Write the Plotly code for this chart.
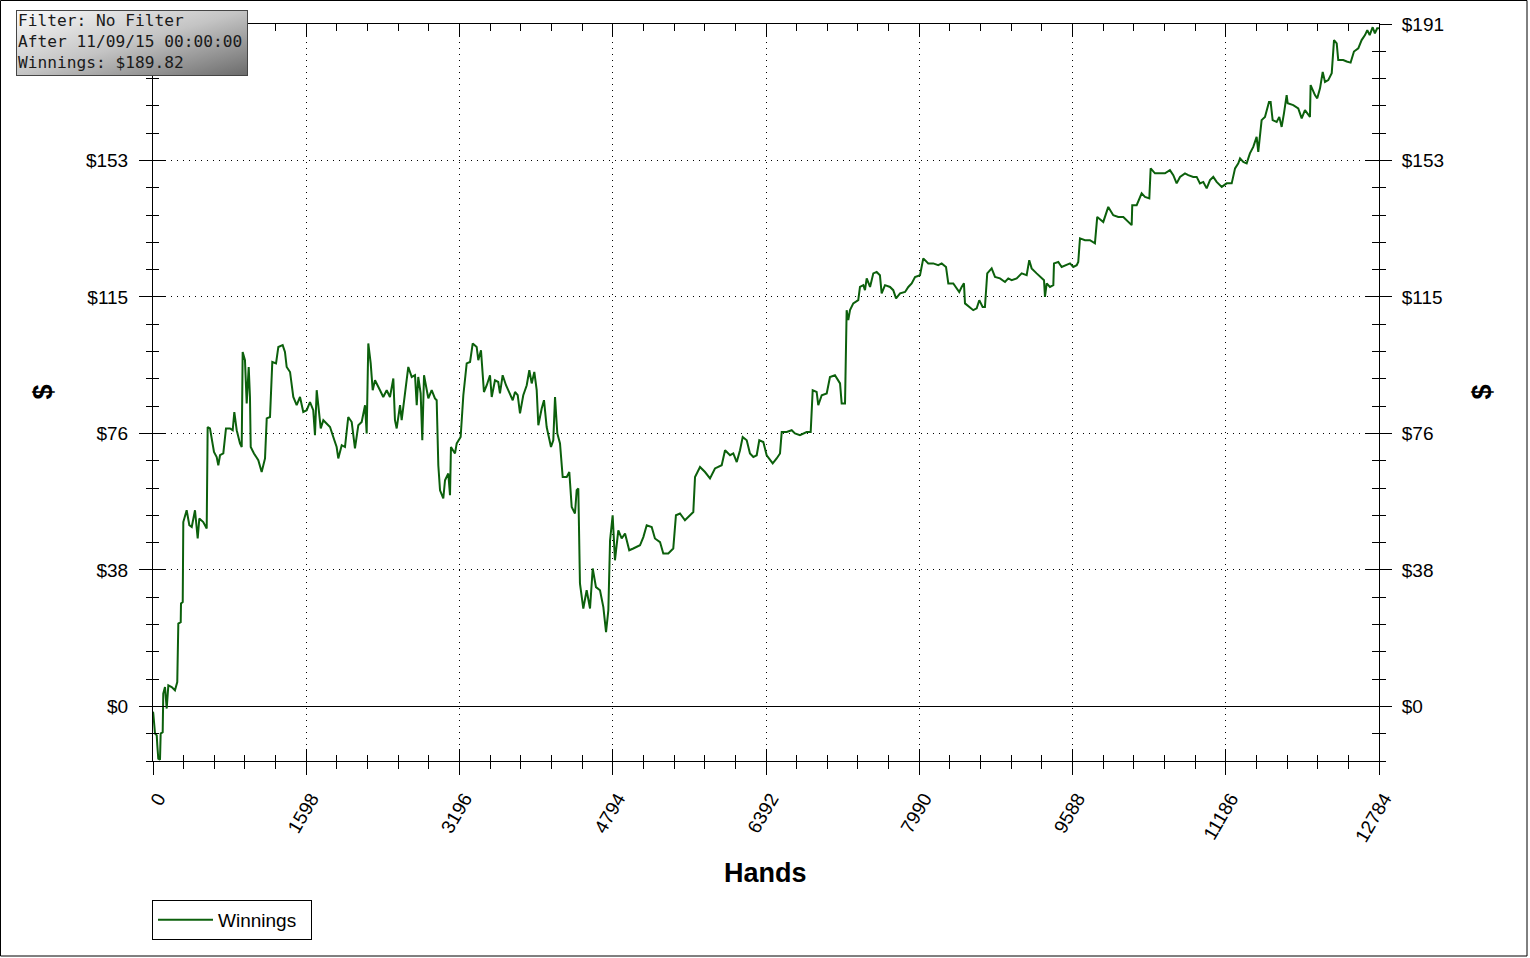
import base64
import plotly.graph_objects as go

# ---------------- data ----------------
hands = [
    0, 3, 21, 39, 45, 55, 73, 80, 101, 107, 125, 143, 160, 195, 229, 253, 264, 289, 292, 310,
    316, 351, 379, 404, 438, 466, 483, 524, 560, 570, 594, 636, 664, 681, 699, 733, 761, 803, 831, 848,
    873, 907, 925, 935, 959, 977, 998, 1011, 1019, 1053, 1098, 1133, 1168, 1186, 1220, 1244, 1283, 1307, 1352, 1376,
    1394, 1429, 1463, 1498, 1533, 1567, 1603, 1637, 1671, 1689, 1707, 1734,
    1749, 1776, 1811, 1846, 1880, 1915, 1932, 1968, 2002, 2036, 2072, 2106, 2141, 2176, 2211, 2228, 2245, 2270, 2291, 2315,
    2367, 2401, 2437, 2471, 2506, 2523, 2541, 2576, 2593, 2628, 2662, 2698, 2732, 2750, 2766, 2791, 2808, 2826, 2871, 2906,
    2940, 2958, 2975, 2993, 3027, 3045, 3079, 3097, 3107, 3149, 3167, 3208, 3236, 3271, 3306, 3334, 3375, 3392, 3420, 3451,
    3480, 3514, 3532, 3566, 3600, 3618, 3646, 3681, 3723, 3751, 3775, 3803, 3827, 3861, 3897, 3924, 3949, 3976, 4001, 4018,
    4053, 4077, 4105, 4150, 4174, 4192, 4216, 4244, 4272, 4314, 4341, 4366, 4400, 4418, 4435, 4452, 4487, 4522, 4557, 4585,
    4619, 4661, 4696, 4724, 4748, 4766, 4793, 4817, 4852,
    4887, 4922, 4966, 5008, 5078, 5113, 5148, 5200, 5234, 5287, 5321, 5373, 5425, 5453, 5495, 5547, 5599, 5634, 5652, 5704,
    5756, 5808, 5860, 5930, 5965, 6017, 6051, 6087, 6121, 6149, 6191, 6225, 6260, 6295, 6322, 6364, 6399, 6462, 6503, 6538,
    6556, 6608, 6660, 6694, 6746, 6816, 6858, 6879, 6920, 6937, 6973, 7025, 7059, 7111, 7164, 7181, 7216, 7233, 7250, 7268,
    7302, 7354, 7372,
    7407, 7424, 7442, 7477, 7511, 7546, 7580, 7598, 7633, 7685, 7719, 7748, 7790, 7842, 7876, 7911, 7946, 7998, 8032, 8084,
    8136, 8188, 8224, 8269, 8293, 8345, 8380, 8407, 8432, 8456, 8467, 8519, 8553, 8589, 8616, 8651, 8675, 8699, 8745, 8780,
    8832, 8884, 8918, 8954, 9006, 9058, 9110, 9137, 9162, 9214, 9249, 9291, 9301, 9319, 9353, 9388, 9395, 9440, 9475, 9527,
    9562, 9596, 9632, 9648, 9666, 9718, 9770, 9822,
    9846, 9909, 9961, 10013, 10065, 10118, 10170, 10205, 10211, 10257, 10309, 10344, 10389, 10403, 10448, 10500, 10552, 10604, 10639, 10674,
    10709, 10761, 10795, 10847, 10883, 10917, 10952, 10987, 11022, 11056, 11091, 11144, 11196, 11248, 11283, 11317, 11335, 11369, 11404, 11438,
    11473, 11508, 11525, 11560, 11595, 11637, 11654, 11675, 11717, 11744, 11769, 11793, 11821, 11832, 11890, 11942, 11978, 12012, 12064, 12071,
    12116, 12140, 12169, 12197, 12221, 12255, 12291, 12315, 12343, 12359, 12411, 12447, 12488, 12523, 12568, 12603, 12638, 12662, 12687, 12718,
    12741, 12765, 12784,
]

winnings = [
    -1.5, -2.0, -7.6, -8.1, -10.9, -14.6, -14.9, -7.6, -7.2, 3.6, 5.4, -0.6, 5.9, 5.4, 4.5, 6.8, 23.2, 23.6, 28.8, 29.2,
    51.6, 54.9, 50.7, 50.2, 54.9, 47.0, 52.6, 51.6, 49.8, 78.2, 77.8, 71.2, 69.8, 67.5, 70.3, 70.8, 77.8, 77.8, 77.3, 82.4,
    77.3, 73.6, 72.6, 99.2, 96.9, 84.8, 95.0, 86.6, 72.6, 70.8, 68.9, 65.6, 69.4, 80.6, 81.0, 96.4, 96.0, 100.6, 101.1, 99.2,
    95.0, 93.6, 86.6, 84.3, 86.6, 82.4, 82.9, 85.2, 82.9, 75.9, 88.5, 82.0,
    77.8, 80.1, 79.2, 78.2, 75.4, 72.6, 69.4, 73.1, 72.6, 81.0, 79.6, 72.2, 78.7, 79.6, 84.3, 76.4, 101.6, 96.0, 88.5, 91.3,
    88.5, 86.6, 88.5, 86.6, 91.8, 80.1, 77.8, 84.3, 80.1, 88.5, 95.0, 92.2, 92.7, 84.3, 92.2, 87.6, 74.5, 92.7, 86.2, 88.5,
    86.2, 85.7, 67.5, 60.5, 58.2, 63.3, 65.2, 59.1, 72.6, 70.8, 73.6, 75.4, 87.1, 96.0, 96.4, 101.6, 100.6, 96.9, 99.7, 88.0,
    89.9, 92.7, 86.6, 91.3, 90.8, 87.6, 92.7, 89.9, 87.1, 85.7, 88.0, 87.1, 82.0, 87.1, 89.9, 94.1, 90.4, 93.6, 88.5, 78.7,
    83.4, 85.7, 78.2, 72.6, 74.5, 86.6, 76.4, 73.6, 64.2, 64.2, 65.6, 55.8, 54.0, 60.5, 61.0, 34.4, 27.4, 32.5, 27.4, 38.6,
    33.4, 32.5, 27.8, 20.8, 26.9, 46.5, 53.5, 40.9, 49.3,
    47.0, 48.4, 43.7, 44.2, 45.1, 47.4, 50.7, 50.2, 47.0, 46.0, 42.8, 42.8, 44.2, 53.5, 54.0, 52.1, 53.5, 54.4, 64.2, 67.0,
    65.6, 63.8, 66.6, 67.5, 71.7, 70.3, 70.8, 68.4, 71.7, 75.4, 74.5, 70.8, 69.8, 70.3, 74.5, 74.0, 70.3, 68.0, 69.4, 70.8,
    76.8, 76.8, 77.3, 76.4, 75.9, 76.8, 76.8, 88.5, 88.0, 84.3, 87.1, 87.6, 92.2, 92.7, 90.4, 84.8, 84.8, 110.9, 108.1, 110.9,
    112.8, 113.7, 117.4,
    117.9, 116.5, 119.8, 117.4, 121.2, 121.6, 120.7, 115.6, 117.9, 117.4, 116.5, 114.2, 115.6, 116.0, 117.4, 118.4, 120.2, 120.7, 125.4, 124.0,
    124.0, 123.5, 124.0, 123.0, 118.4, 118.4, 117.0, 116.0, 117.4, 118.4, 112.8, 111.8, 110.9, 111.4, 113.7, 111.8, 111.8, 121.2, 122.6, 120.2,
    119.8, 118.8, 119.8, 119.3, 119.8, 121.2, 120.7, 124.9, 122.6, 121.2, 120.2, 119.3, 114.6, 118.4, 117.4, 117.9, 124.0, 124.4, 123.0, 123.5,
    124.0, 123.0, 123.5, 124.4, 131.0, 130.5, 130.5, 129.6,
    137.0, 135.6, 139.8, 137.5, 137.0, 137.0, 135.6, 134.7, 140.3, 140.3, 143.6, 142.6, 142.2, 150.6, 149.2, 149.2, 149.2, 150.1, 148.7, 146.4,
    148.2, 149.2, 148.7, 148.2, 148.2, 146.4, 146.8, 145.0, 147.3, 148.2, 146.8, 145.4, 146.4, 146.4, 150.6, 152.0, 153.4, 152.4, 152.0, 154.8,
    156.6, 159.4, 155.2, 164.1, 165.0, 169.2, 169.2, 164.1, 163.6, 165.0, 162.2, 166.0, 171.1, 168.8, 168.3, 167.4, 164.6, 166.9, 165.0, 173.9,
    171.1, 170.2, 173.0, 177.6, 174.8, 175.3, 177.2, 186.5, 185.6, 180.9, 180.9, 180.5, 180.2, 183.3, 184.2, 186.5, 187.9, 189.3, 187.9, 190.1,
    188.4, 189.8, 189.82,
]
assert len(hands) == len(winnings)

series_name = "Winnings"
x_range = [0, 12784]
x_major = 1598
y_range = [-15.28, 191.0001]
y_major = 38.2
y_tickvals = [0, 38.2, 76.4, 114.6, 152.8, 191]
y_ticktext_right = ["$0", "$38", "$76", "$115", "$153", "$191"]
y_ticktext_left = ["$0", "$38", "$76", "$115", "$153", ""]   # top label sits under the info box
info_lines = ["Filter: No Filter", "After 11/09/15 00:00:00", "Winnings: $189.82"]

# ---------------- figure ----------------
W, H = 1530, 958
L, R, T, B = 153, 151, 24, 197
PW, PH = W - L - R, H - T - B


def px_x(p):
    return (p - L) / PW


def px_y(p):
    return (H - B - p) / PH


TICKFONT = dict(family="Arial, Liberation Sans, sans-serif", size=19, color="#000")
LINE_GREEN = "#0c600c"

fig = go.Figure()
fig.add_trace(go.Scatter(
    x=hands, y=winnings, mode="lines", name=series_name,
    line=dict(color=LINE_GREEN, width=2), hoverinfo="skip",
))
# invisible copies so that the overlay axes (crossing ticks, frame, right labels) get drawn
for xa, ya in (("x2", "y2"), ("x3", "y3"), ("x", "y4")):
    fig.add_trace(go.Scatter(
        x=hands, y=winnings, mode="lines", xaxis=xa, yaxis=ya, showlegend=False,
        line=dict(color="rgba(0,0,0,0)", width=0), hoverinfo="skip",
    ))

grid = dict(showgrid=True, gridcolor="#000", gridwidth=1, griddash="1px,5px")
tk = dict(tickwidth=1, tickcolor="#000")

fig.update_layout(
    width=W, height=H, autosize=False,
    margin=dict(l=L, r=R, t=T, b=B, pad=0),
    paper_bgcolor="white", plot_bgcolor="white",
    showlegend=True,
    legend=dict(
        x=px_x(152), y=px_y(900), xanchor="left", yanchor="top", orientation="h",
        bordercolor="#000", borderwidth=1, bgcolor="white",
        font=dict(family="Arial, Liberation Sans, sans-serif", size=19, color="#000"),
        itemwidth=55, entrywidth=88, entrywidthmode="pixels", tracegroupgap=0,
    ),
    xaxis=dict(
        range=x_range, tickmode="linear", tick0=0, dtick=x_major, tickformat="d",
        ticks="outside", ticklen=13, **tk, ticklabelstandoff=5, ticklabelshift=5,
        minor=dict(ticks="outside", ticklen=7, **tk, dtick=x_major / 5, tick0=0, showgrid=False),
        showline=True, linecolor="#000", linewidth=1,
        tickangle=-60, tickfont=TICKFONT, zeroline=False, **grid,
    ),
    xaxis2=dict(
        range=x_range, overlaying="x", anchor="y", side="bottom",
        tickmode="linear", tick0=0, dtick=x_major,
        ticks="inside", ticklen=12, **tk,
        minor=dict(ticks="inside", ticklen=6, **tk, dtick=x_major / 5, tick0=0, showgrid=False),
        showticklabels=False, showgrid=False, zeroline=False, showline=False,
    ),
    xaxis3=dict(
        range=x_range, overlaying="x", anchor="y", side="top",
        tickmode="linear", tick0=0, dtick=x_major,
        ticks="inside", ticklen=12, **tk,
        minor=dict(ticks="inside", ticklen=7, **tk, dtick=x_major / 5, tick0=0, showgrid=False),
        showticklabels=False, showgrid=False, zeroline=False,
        showline=True, linecolor="#000", linewidth=1,
    ),
    yaxis=dict(
        range=y_range, tickmode="array", tickvals=y_tickvals, ticktext=y_ticktext_left,
        ticks="outside", ticklen=13, **tk, ticklabelstandoff=7,
        minor=dict(ticks="outside", ticklen=6, **tk, dtick=y_major / 5, tick0=0, showgrid=False),
        showline=True, linecolor="#000", linewidth=1,
        tickfont=TICKFONT,
        zeroline=True, zerolinecolor="#000", zerolinewidth=1, **grid,
    ),
    yaxis2=dict(
        range=y_range, overlaying="y", anchor="x", side="left",
        tickmode="linear", tick0=0, dtick=y_major,
        ticks="inside", ticklen=13, **tk,
        minor=dict(ticks="inside", ticklen=6, **tk, dtick=y_major / 5, tick0=0, showgrid=False),
        showticklabels=False, showgrid=False, zeroline=False, showline=False,
    ),
    yaxis3=dict(
        range=y_range, overlaying="y", anchor="x", side="right",
        tickmode="array", tickvals=y_tickvals, ticktext=y_ticktext_right,
        ticks="outside", ticklen=12, **tk, ticklabelstandoff=6,
        minor=dict(ticks="outside", ticklen=6, **tk, dtick=y_major / 5, tick0=0, showgrid=False),
        showline=True, linecolor="#000", linewidth=1,
        tickfont=TICKFONT, showgrid=False, zeroline=False,
    ),
    yaxis4=dict(
        range=y_range, overlaying="y", anchor="x", side="right",
        tickmode="linear", tick0=0, dtick=y_major,
        ticks="inside", ticklen=13, **tk,
        minor=dict(ticks="inside", ticklen=7, **tk, dtick=y_major / 5, tick0=0, showgrid=False),
        showticklabels=False, showgrid=False, zeroline=False, showline=False,
    ),
)

# Axis titles
TITLEFONT = dict(family="Arial, Liberation Sans, sans-serif", size=27, color="#000", weight="bold")
fig.add_annotation(text="Hands", x=px_x(765), y=px_y(873), xref="paper", yref="paper",
                   xanchor="center", yanchor="middle", showarrow=False, font=TITLEFONT)
for xp in (42, 1481):
    fig.add_annotation(text="$", x=px_x(xp), y=0.5, xref="paper", yref="paper", textangle=-90,
                       xanchor="center", yanchor="middle", showarrow=False, font=TITLEFONT)

# Info box with diagonal gradient
bw, bh = 232, 66
svg = (
    f"<svg xmlns='http://www.w3.org/2000/svg' width='{bw}' height='{bh}' viewBox='0 0 {bw} {bh}' preserveAspectRatio='none'>"
    "<defs><linearGradient id='g' x1='0' y1='0' x2='1' y2='1'>"
    "<stop offset='0' stop-color='#fbfbfb'/><stop offset='0.5' stop-color='#c4c4c4'/><stop offset='1' stop-color='#6a6a6a'/>"
    "</linearGradient></defs>"
    f"<rect x='0' y='0' width='{bw}' height='{bh}' fill='url(#g)' stroke='#454545' stroke-width='2'/>"
    "</svg>"
)
src = "data:image/svg+xml;base64," + base64.b64encode(svg.encode()).decode()
fig.add_layout_image(dict(
    source=src, xref="paper", yref="paper", x=px_x(16), y=px_y(10),
    sizex=bw / PW, sizey=bh / PH, xanchor="left", yanchor="top",
    sizing="stretch", layer="above",
))
fig.add_annotation(
    text="<br>".join(info_lines), x=px_x(16), y=px_y(9), xref="paper", yref="paper",
    xanchor="left", yanchor="top", align="left", showarrow=False,
    font=dict(family="DejaVu Sans Mono, monospace", size=16.2, color="#1a1a1a"),
)

# Outer frame
fig.add_shape(type="rect", xref="paper", yref="paper",
              x0=px_x(0.5), x1=px_x(1527), y0=px_y(956), y1=px_y(0.5),
              line=dict(color="#000", width=1), fillcolor="rgba(0,0,0,0)", layer="above")

fig.write_html("out.html", config={"displayModeBar": False},
               post_script="document.body.style.margin='0';")
